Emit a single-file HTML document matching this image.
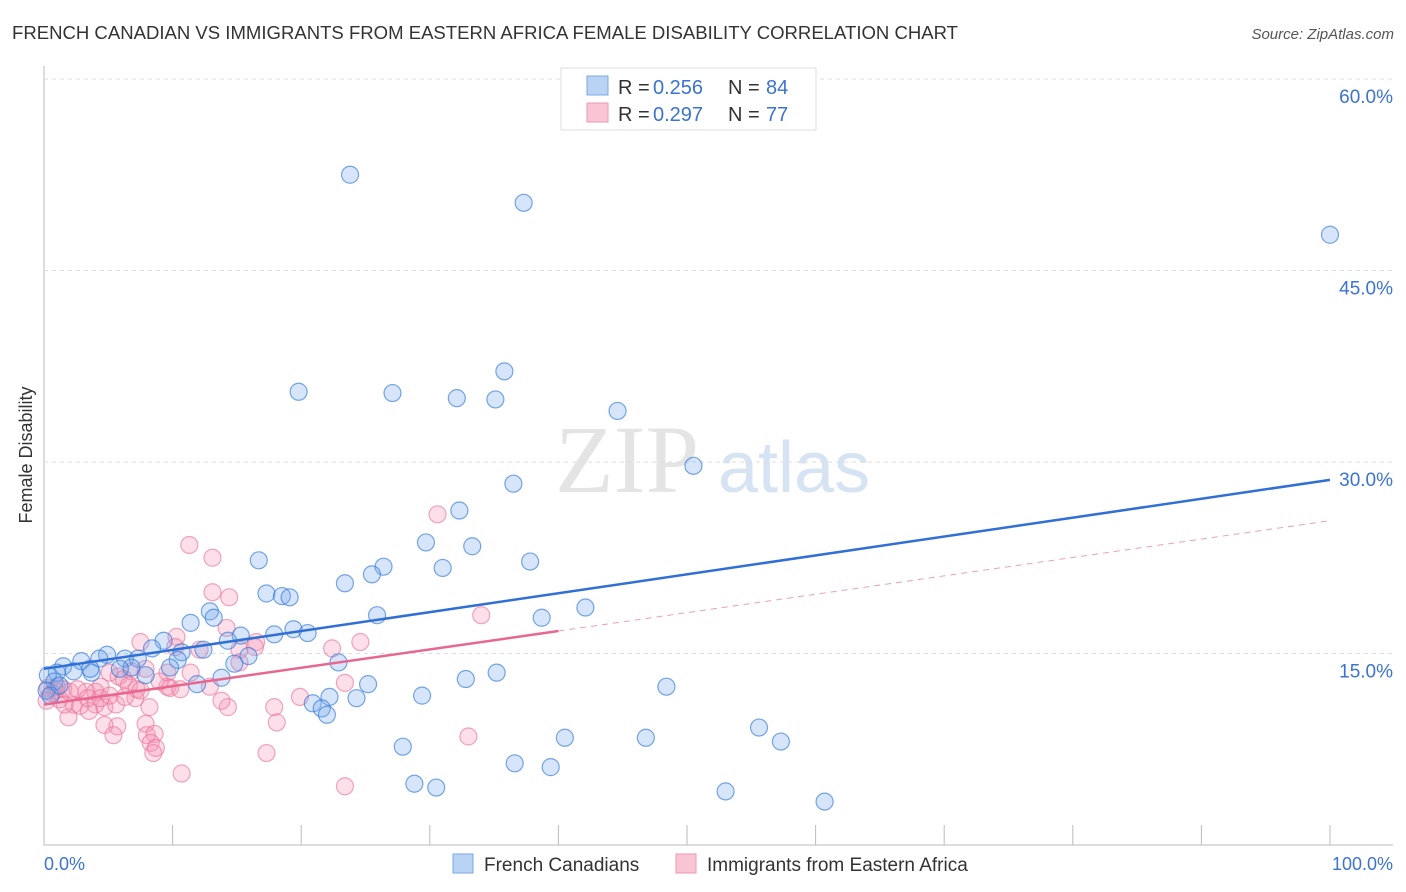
<!DOCTYPE html>
<html><head><meta charset="utf-8"><style>
body{margin:0;background:#fff;font-family:"Liberation Sans",sans-serif;}
svg{display:block}
</style></head><body>
<svg id="chart" width="1406" height="892">
<text x="12" y="39" font-size="18" fill="#333" textLength="946" lengthAdjust="spacingAndGlyphs">FRENCH CANADIAN VS IMMIGRANTS FROM EASTERN AFRICA FEMALE DISABILITY CORRELATION CHART</text>
<text x="1394" y="39" font-size="15" fill="#555" font-style="italic" text-anchor="end">Source: ZipAtlas.com</text>
<text x="32" y="455" font-size="18" fill="#333" text-anchor="middle" transform="rotate(-90 32 455)">Female Disability</text>
<text x="555" y="492" font-size="96" fill="#e4e4e4" font-family="Liberation Serif,serif">ZIP</text>
<text x="718" y="492" font-size="72" fill="#d5e3f3">atlas</text>
<g id="grid"></g><g id="pts"></g><g id="trend"></g>
<g>
<rect x="561" y="68" width="255" height="62" fill="#fff" stroke="#ddd"/>
<rect x="587" y="76" width="21" height="19" fill="#b9d3f5" stroke="#7aa7e6"/>
<rect x="587" y="103" width="21" height="19" fill="#f9c5d4" stroke="#ef97b1"/>
<text x="618" y="94" font-size="20" fill="#333">R =</text>
<text x="653" y="94" font-size="20" fill="#3b73d0">0.256</text>
<text x="728" y="94" font-size="20" fill="#333">N =</text>
<text x="766" y="94" font-size="20" fill="#3b73d0">84</text>
<text x="618" y="121" font-size="20" fill="#333">R =</text>
<text x="653" y="121" font-size="20" fill="#3b73d0">0.297</text>
<text x="728" y="121" font-size="20" fill="#333">N =</text>
<text x="766" y="121" font-size="20" fill="#3b73d0">77</text>
</g>
<g>
<rect x="453" y="854" width="20" height="19" fill="#b9d3f5" stroke="#7aa7e6"/>
<text x="484" y="871" font-size="19" fill="#333">French Canadians</text>
<rect x="676" y="854" width="20" height="19" fill="#f9c5d4" stroke="#ef97b1"/>
<text x="707" y="871" font-size="19" fill="#333">Immigrants from Eastern Africa</text>
</g>
<text x="44" y="870" font-size="18" fill="#3b73d0">0.0%</text>
<text x="1393" y="870" font-size="18" fill="#3b73d0" text-anchor="end">100.0%</text>
</svg>
<script>
const yTicks=[15,30,45,60];
const yTickLabels=["15.0%","30.0%","45.0%","60.0%"];
const xTicks=[0,10,20,30,40,50,60,70,80,90,100];
const blueX=[23.8,37.3,100,35.8,19.8,27.1,32.1,35.1,44.6,50.5,36.5,32.3,29.7,33.3,37.8,16.7,26.4,31.0,25.5,23.4,17.3,18.5,19.1,42.1,38.7,12.9,25.9,13.2,11.4,19.4,20.5,15.3,17.9,14.3,9.3,12.4,8.4,10.7,15.9,14.8,10.4,22.9,9.8,4.9,4.3,6.3,7.3,6.8,7.9,5.9,2.9,1.5,3.7,2.3,1.0,0.3,0.8,35.2,32.8,48.4,25.2,11.9,13.8,22.2,24.3,20.9,21.6,22.0,29.4,55.6,57.3,27.9,40.5,46.8,36.6,39.4,28.8,30.5,53.0,60.7,0.2,0.5,1.2,3.6];
const blueY=[52.5,50.3,47.8,37.1,35.5,35.4,35.0,34.9,34.0,29.7,28.3,26.2,23.7,23.4,22.2,22.3,21.8,21.7,21.2,20.5,19.7,19.5,19.4,18.6,17.8,18.3,18.0,17.8,17.4,16.9,16.6,16.4,16.5,16.0,16.0,15.3,15.4,15.1,14.8,14.2,14.5,14.3,13.9,14.9,14.6,14.6,14.6,13.9,13.3,13.8,14.4,14.0,13.5,13.6,13.5,13.3,12.8,13.5,13.0,12.4,12.6,12.6,13.1,11.6,11.5,11.1,10.7,10.2,11.7,9.2,8.1,7.7,8.4,8.4,6.4,6.1,4.8,4.5,4.2,3.4,12.1,11.7,12.5,13.8];
const pinkX=[11.3,13.1,13.1,14.4,30.6,34.0,10.3,7.5,24.6,22.4,14.2,16.5,15.2,9.6,7.9,5.1,5.8,6.8,6.2,4.4,3.3,1.5,0.9,0.3,0.6,1.2,2.3,4.0,4.7,2.8,1.9,3.5,5.6,4.0,9.6,9.8,6.6,7.2,7.1,8.2,12.9,17.9,18.1,14.3,7.9,5.7,4.7,5.4,8.0,8.6,8.3,8.7,8.5,17.3,10.7,23.4,33.0,23.4,19.9,12.1,2.0,2.6,1.0,0.2,3.4,4.4,5.1,6.3,1.6,7.5,9.0,10.6,11.4,13.8,15.2,16.4,10.2];
const pinkY=[23.5,22.5,19.8,19.4,25.9,18.0,16.3,15.9,15.9,15.4,17.0,15.9,15.3,13.5,13.8,13.5,13.2,13.6,13.0,12.4,12.0,12.2,12.1,12.3,11.9,11.4,11.0,11.0,10.8,10.9,10.0,10.5,11.0,12.0,12.4,12.3,12.5,12.2,11.5,10.8,12.4,10.8,9.6,10.8,9.5,9.3,9.4,8.6,8.6,8.7,8.0,7.6,7.2,7.2,5.6,4.6,8.5,12.7,11.6,15.3,12.0,12.2,12.4,11.3,11.5,11.5,11.7,11.6,11.0,12.1,12.8,12.2,13.5,11.3,14.3,15.5,15.5];
const blueTrend=[13.8,28.6];
const pinkTrend=[11.0,25.4];
const X=v=>44+v*12.86, Y=v=>845-v*12.767;
const NS="http://www.w3.org/2000/svg";
function mk(t,a,p){const e=document.createElementNS(NS,t);for(const k in a)e.setAttribute(k,a[k]);p.appendChild(e);return e;}
const g=document.getElementById('grid');
let ax=mk('line',{x1:44,y1:66,x2:44,y2:845,stroke:'#bbb'},g);


let bx=mk('line',{x1:44,y1:845,x2:1393,y2:845,stroke:'#bbb'},g);


yTicks.forEach((v,i)=>{
 const l=mk('line',{x1:44,y1:Y(v),x2:1393,y2:Y(v),stroke:'#ddd','stroke-dasharray':'4 4'},g);
 
 
 const t=mk('text',{x:1393,y:Y(v)+24,'font-size':19,fill:'#3b73d0','text-anchor':'end'},g);
 t.textContent=yTickLabels[i];
 
 
});
xTicks.forEach(v=>{
 const l=mk('line',{x1:X(v),y1:825,x2:X(v),y2:845,stroke:'#bbb'},g);
 
 
});
const p=document.getElementById('pts');
pinkX.forEach((v,i)=>{
 const c=mk('circle',{cx:X(v),cy:Y(pinkY[i]),r:8.5,fill:'rgba(244,150,180,0.3)',stroke:'rgba(234,110,150,0.6)','stroke-width':1.2},p);
 
 
});
blueX.forEach((v,i)=>{
 const c=mk('circle',{cx:X(v),cy:Y(blueY[i]),r:8.5,fill:'rgba(120,170,235,0.3)',stroke:'rgba(50,120,220,0.65)','stroke-width':1.2},p);
 
 
});
const tr=document.getElementById('trend');
const pl=v=>pinkTrend[0]+(pinkTrend[1]-pinkTrend[0])*v/100;
let t1=mk('line',{x1:X(0),y1:Y(blueTrend[0]),x2:X(100),y2:Y(blueTrend[1]),stroke:'#2f6fd6','stroke-width':2.5},tr);


let t2=mk('line',{x1:X(0),y1:Y(pl(0)),x2:X(40),y2:Y(pl(40)),stroke:'#e8668f','stroke-width':2.5},tr);


let t3=mk('line',{x1:X(40),y1:Y(pl(40)),x2:X(100),y2:Y(pl(100)),stroke:'#eaa0b8','stroke-width':1,'stroke-dasharray':'6 5'},tr);


</script>
</body></html>
